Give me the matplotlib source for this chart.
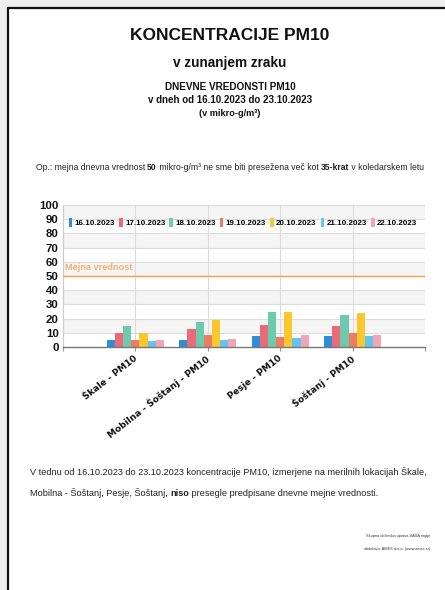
import matplotlib
matplotlib.use("Agg")
import matplotlib.pyplot as plt
from matplotlib.patches import Rectangle
import numpy as np

# ---- data ----
dates = ['16.10.2023', '17.10.2023', '18.10.2023', '19.10.2023',
         '20.10.2023', '21.10.2023', '22.10.2023']
locations = ['Škale - PM10', 'Mobilna - Šoštanj - PM10', 'Pesje - PM10', 'Šoštanj - PM10']
d16 = [4.7, 4.7, 7.8, 7.8]
d17 = [9.6, 12.7, 15.3, 14.6]
d18 = [15.0, 17.9, 24.9, 22.6]
d19 = [4.7, 8.2, 7.0, 9.6]
d20 = [9.9, 19.3, 24.9, 24.2]
d21 = [4.0, 5.2, 6.6, 7.5]
d22 = [4.7, 5.9, 8.2, 8.7]
series = [d16, d17, d18, d19, d20, d21, d22]
limit_value = 50
yticks = list(range(0, 101, 10))
colors = ['#2e8fd6', '#eb6a76', '#6ccbae', '#ef7b62', '#fcc72c', '#5fc6f2', '#f6a4b4']

NARROW = ['Liberation Sans Narrow', 'Liberation Sans', 'DejaVu Sans']

W, H = 445, 590
fig = plt.figure(figsize=(W / 100, H / 100), dpi=100)
fig.patch.set_facecolor('#efefef')

# page border
page = Rectangle((8 / W, -0.1), 1.2, 1 - 8 / H + 0.1, transform=fig.transFigure,
                 facecolor='white', edgecolor='#111111', linewidth=1.6, zorder=-10)
fig.patches.append(page)

def fx(px):
    return px / W

def fy(py):
    return 1 - py / H

renderer = fig.canvas.get_renderer()

def rich(xc, y, pieces, size, ha='center', family=NARROW, color='#222222'):
    widths = []
    for txt, bold in pieces:
        t = fig.text(0, 0, txt, fontsize=size, family=family,
                     fontweight='bold' if bold else 'normal')
        bb = t.get_window_extent(renderer=renderer)
        widths.append(bb.width)
        t.remove()
    total = sum(widths)
    x0 = xc - total / 2 if ha == 'center' else xc
    x = x0
    for (txt, bold), w in zip(pieces, widths):
        fig.text(fx(x), fy(y), txt, fontsize=size, family=family,
                 fontweight='bold' if bold else 'normal', color=color,
                 va='center', ha='left')
        x += w

cx = 230
fig.text(fx(cx), fy(36), 'KONCENTRACIJE PM10', fontsize=12.5, family=NARROW,
         fontweight='bold', ha='center', va='center', color='#111111')
fig.text(fx(cx), fy(63), 'v zunanjem zraku', fontsize=9.8, family=NARROW,
         fontweight='bold', ha='center', va='center', color='#111111')
fig.text(fx(cx), fy(87), 'DNEVNE VREDONSTI PM10', fontsize=7.2, family=NARROW,
         fontweight='bold', ha='center', va='center', color='#111111')
fig.text(fx(cx), fy(100), 'v dneh od 16.10.2023 do 23.10.2023', fontsize=7.0, family=NARROW,
         fontweight='bold', ha='center', va='center', color='#111111')
fig.text(fx(cx), fy(113), '(v mikro-g/m³)', fontsize=6.6, family=NARROW,
         fontweight='bold', ha='center', va='center', color='#111111')

rich(cx, 167, [('Op.: mejna dnevna vrednost ', False), ('50', True),
               (' mikro-g/m³ ne sme biti presežena več kot ', False),
               ('35-krat', True), (' v koledarskem letu', False)], 6.2)

# ---- axes ----
ax = fig.add_axes([fx(63), fy(347), fx(425) - fx(63), fy(205) - fy(347)])
ax.set_xlim(0, 5)
ax.set_ylim(0, 100)
ax.patch.set_alpha(0)
for lo in range(10, 100, 20):
    ax.axhspan(lo, lo + 10, color='#f5f5f5', zorder=0, lw=0)
ax.set_yticks(yticks)
ax.set_xticks([0, 1, 2, 3, 4, 5])
ax.set_xticklabels([])
ax.grid(True, color='#dcdcdc', linewidth=0.8, zorder=0.5)
ax.set_axisbelow(True)

bw = 0.113
x = np.arange(1, len(locations) + 1)
for j, (vals, c, lab) in enumerate(zip(series, colors, dates)):
    ax.bar(x + (j - 3) * bw, vals, width=bw, color=c, label=lab, zorder=2, linewidth=0)

ax.axhline(limit_value, color='#f5a04e', linewidth=1.0, zorder=3)
ax.text(0.03, limit_value + 2.5, 'Mejna vrednost', color='#f6b070', fontsize=6.6,
        family=NARROW, fontweight='bold', va='bottom', ha='left', zorder=3)

for s in ['top', 'right']:
    ax.spines[s].set_visible(False)
ax.spines['left'].set_color('#cccccc')
ax.spines['left'].set_linewidth(0.8)
ax.spines['bottom'].set_color('#777777')
ax.spines['bottom'].set_linewidth(1.0)
ax.tick_params(axis='y', length=0, pad=3)
ax.tick_params(axis='x', length=3, color='#999999', width=0.8)
for t in ax.get_yticklabels():
    t.set_fontfamily(NARROW)
    t.set_fontweight('bold')
    t.set_fontsize(8.2)
    t.set_color('#111111')

for i, lab in enumerate(locations):
    ax.text(x[i] - 0.03, -5, lab, rotation=38, ha='right', va='top',
            rotation_mode='anchor', fontsize=6.5, fontweight='bold',
            family=['DejaVu Sans'], color='#111111')

leg = ax.legend(loc='center', bbox_to_anchor=(0.497, 0.875), ncol=7, frameon=False,
                handlelength=0.45, handleheight=1.2, handletextpad=0.3,
                columnspacing=0.5, borderaxespad=0, borderpad=0,
                prop={'family': NARROW, 'weight': 'bold', 'size': 5.75})

# ---- bottom text ----
rich(30, 472, [('V tednu od 16.10.2023 do 23.10.2023 koncentracije PM10, izmerjene na merilnih lokacijah Škale,', False)],
     6.6, ha='left')
rich(30, 493, [('Mobilna - Šoštanj, Pesje, Šoštanj, ', False), ('niso', True),
               (' presegle predpisane dnevne mejne vrednosti.', False)], 6.6, ha='left')

fig.text(fx(430), fy(536), 'Skupna občinska uprava SAŠA regije', fontsize=2.8,
         family=NARROW, ha='right', va='center', color='#333333')
fig.text(fx(430), fy(549), 'obdelava: AMES d.o.o. (www.ames.si)', fontsize=2.8,
         family=NARROW, ha='right', va='center', color='#333333')

fig.savefig('out.png', dpi=100, facecolor=fig.get_facecolor())
